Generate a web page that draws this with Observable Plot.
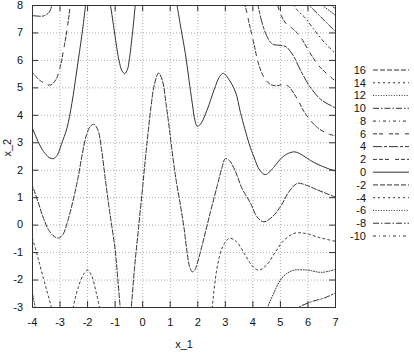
<!DOCTYPE html>
<html><head><meta charset="utf-8">
<script src="https://cdn.jsdelivr.net/npm/d3@7"></script>
<script src="https://cdn.jsdelivr.net/npm/@observablehq/plot@0.6"></script>
<style>body{margin:0;background:#fff}</style>
</head><body><div id="chart"></div>
<script>
// contour levels (legend order) and tick values
const levels = [16,14,12,10,8,6,4,2,0,-2,-4,-6,-8,-10];
const xTicks = [-4,-3,-2,-1,0,1,2,3,4,5,6,7];
const yTicks = [-3,-2,-1,0,1,2,3,4,5,6,7,8];

// contour pieces: [x_1, x_2]
const c0a = [[-4.05,3.62],[-4,3.52],[-3.8,3.05],[-3.6,2.68],[-3.4,2.47],[-3.25,2.42],[-3.1,2.55],[-2.95,2.95],[-2.75,3.53],[-2.57,4.44],[-2.39,5.65],[-2.2,6.98],[-2.08,7.95],[-2.05,8.2]];
const c0b = [[-1.22,8.2],[-1.17,8],[-1.02,7],[-0.86,6.0],[-0.75,5.62],[-0.65,5.52],[-0.55,5.68],[-0.49,6.0],[-0.37,7.0],[-0.27,8],[-0.25,8.2]];
const c0c = [[1.22,8.2],[1.25,8.0],[1.4,7.1],[1.55,6.25],[1.68,5.3],[1.8,4.44],[1.9,3.8],[1.98,3.6],[2.1,3.68],[2.34,4.2],[2.6,4.95],[2.8,5.42],[2.93,5.53],[3.1,5.35],[3.37,4.85],[3.55,4.1],[3.86,2.98],[4.04,2.48],[4.25,2.0],[4.46,1.84],[4.75,2.1],[5.1,2.5],[5.49,2.67],[5.8,2.55],[6.1,2.35],[6.5,2.15],[7.05,1.95]];
const cm2a = [[-4.05,1.55],[-4,1.43],[-3.8,0.85],[-3.6,0.25],[-3.4,-0.2],[-3.2,-0.42],[-3.05,-0.47],[-2.9,-0.35],[-2.75,0.05],[-2.6,0.6],[-2.47,1.15],[-2.35,1.7],[-2.2,2.55],[-2.05,3.25],[-1.9,3.6],[-1.76,3.67],[-1.62,3.45],[-1.5,2.8],[-1.36,1.7],[-1.2,0.5],[-1.0,-0.9],[-0.9,-2.0],[-0.81,-3.05],[-0.79,-3.2]];
const cm2b = [[-0.45,-3.2],[-0.42,-3.03],[-0.3,-1.6],[-0.15,-0.1],[0.0,1.4],[0.1,2.44],[0.2,3.4],[0.3,4.3],[0.42,5.1],[0.58,5.54],[0.72,5.25],[0.85,4.4],[0.97,3.5],[1.1,2.44],[1.22,1.6],[1.37,0.73],[1.5,-0.1],[1.61,-0.97],[1.7,-1.5],[1.8,-1.7],[1.9,-1.62],[1.98,-1.4],[2.16,-0.73],[2.46,0.48],[2.71,1.45],[2.88,2.1],[3.0,2.42],[3.15,2.35],[3.37,1.95],[3.6,1.35],[3.92,0.79],[4.15,0.3],[4.4,0.12],[4.7,0.3],[5.0,0.67],[5.3,1.2],[5.61,1.52],[5.95,1.45],[6.3,1.3],[7.05,1.0]];
const cm4a = [[-4.05,-0.3],[-4,-0.48],[-3.8,-1.2],[-3.6,-1.95],[-3.45,-2.5],[-3.3,-3.05],[-3.28,-3.2]];
const cm4b = [[-2.56,-3.2],[-2.53,-3.03],[-2.35,-2.3],[-2.15,-1.8],[-2.0,-1.64],[-1.85,-1.85],[-1.7,-2.4],[-1.56,-3.03],[-1.53,-3.2]];
const cm4c = [[2.5,-3.2],[2.52,-3.03],[2.7,-1.56],[2.9,-0.8],[3.15,-0.48],[3.4,-0.6],[3.7,-1.05],[3.95,-1.45],[4.2,-1.64],[4.5,-1.45],[4.8,-1.0],[5.13,-0.55],[5.5,-0.3],[5.9,-0.3],[6.4,-0.45],[7.05,-0.6]];
const cm6 = [[4.48,-3.2],[4.52,-3.03],[4.75,-2.5],[5.0,-2.0],[5.25,-1.75],[5.5,-1.64],[6.0,-1.64],[6.5,-1.72],[7.05,-1.6]];
const cm6a = [[-4.05,-2.3],[-4,-2.48],[-3.9,-3.03],[-3.88,-3.2]];
const cm8 = [[5.5,-3.2],[5.61,-3.03],[6.1,-2.8],[6.6,-2.65],[7.05,-2.45]];
const c2a = [[-4.05,5.6],[-4,5.55],[-3.7,5.25],[-3.36,5.1],[-3.15,5.3],[-3.0,5.75],[-2.85,6.5],[-2.72,7.3],[-2.63,8],[-2.6,8.2]];
const c2b = [[3.6,8.3],[3.73,7.94],[3.9,7.2],[4.04,6.6],[4.2,5.9],[4.4,5.39],[4.64,5.12],[4.9,5.08],[5.13,5.13],[5.3,5.05],[5.61,4.6],[5.85,4.15],[6.1,3.8],[6.35,3.55],[6.58,3.4],[6.8,3.3],[7.05,3.25]];
const c4a = [[-4.05,7.63],[-4,7.63],[-3.6,7.62],[-3.4,7.75],[-3.3,8.0],[-3.28,8.2]];
const c4b = [[4.15,8.2],[4.3,7.5],[4.5,6.9],[4.7,6.6],[4.95,6.55],[5.2,6.5],[5.45,6.2],[5.75,5.6],[6.1,5.0],[6.5,4.55],[7.05,4.25]];
const c6 = [[4.85,8.2],[5.0,7.7],[5.2,7.35],[5.45,7.15],[5.7,6.9],[6.0,6.4],[6.4,5.8],[7.05,5.2]];
const c8 = [[5.4,8.2],[5.6,7.85],[5.9,7.55],[6.2,7.15],[6.6,6.65],[7.05,6.2]];
const c10 = [[5.9,8.2],[6.1,7.95],[6.4,7.65],[6.7,7.35],[7.05,7.0]];
const c12 = [[6.3,8.2],[6.6,7.95],[7.05,7.6]];
const c14 = [[6.65,8.2],[6.85,8.0],[7.05,7.85]];

const pieces = [
  [0,c0a],[0,c0b],[0,c0c],[-2,cm2a],[-2,cm2b],[-4,cm4a],[-4,cm4b],[-4,cm4c],
  [-6,cm6a],[-6,cm6],[-8,cm8],[2,c2a],[2,c2b],[4,c4a],[4,c4b],[6,c6],[8,c8],[10,c10],[12,c12],[14,c14]
];
const rows = [];
pieces.forEach(([level, pts], id) => pts.forEach(([x, y]) => rows.push({id, level, x, y})));

const dashStyles = ["5,2","2,3","1,1.6","6,2,1.5,2","3,3,1,3","4,2,4,6","9,2,3,2","4,2,4,2,4,6",null];
const dashOf = lv => dashStyles[levels.indexOf(lv) % 9];

const W = 414, H = 354, mL = 32, mR = 79, mT = 5, mB = 47;
const ink = "#333";
const font = "'Liberation Sans', Arial, sans-serif";
const lineMarks = levels.map(lv => Plot.line(rows.filter(r => r.level === lv), {
  x: "x", y: "y", z: "id", stroke: ink, strokeWidth: 1, curve: "catmull-rom", clip: true,
  strokeDasharray: dashOf(lv)
}));

const fh = H - mT - mB, fw = W - mL - mR, tk = 6;
const plot = Plot.plot({
  width: W, height: H, marginLeft: mL, marginRight: mR, marginTop: mT, marginBottom: mB,
  style: {fontFamily: font, fontSize: "11px", background: "#fff", color: "#111", overflow: "visible"},
  x: {domain: [-4, 7], axis: null}, y: {domain: [-3, 8], axis: null},
  marks: [
    Plot.gridX(xTicks, {stroke: "#999", strokeOpacity: 0.8, strokeDasharray: "1,2"}),
    Plot.gridY(yTicks, {stroke: "#999", strokeOpacity: 0.8, strokeDasharray: "1,2"}),
    ...lineMarks,
    Plot.ruleX(xTicks, {stroke: ink, insetTop: fh - tk}),
    Plot.ruleX(xTicks, {stroke: ink, insetBottom: fh - tk}),
    Plot.ruleY(yTicks, {stroke: ink, insetRight: fw - tk}),
    Plot.ruleY(yTicks, {stroke: ink, insetLeft: fw - tk}),
    Plot.frame({stroke: ink}),
    Plot.text(xTicks, {x: d => d, frameAnchor: "bottom", dy: 18, text: d => String(d), fontSize: 11, fill: "#111"}),
    Plot.text(["x_1"], {frameAnchor: "bottom", dy: 40, fontSize: 11, fill: "#111"}),
    Plot.text(["x_2"], {frameAnchor: "left", dx: -25, rotate: -90, fontSize: 11, fill: "#111"})
  ]
});

const svg = d3.select(plot);
// y tick labels positioned with the plot's own y scale
const ys = plot.scale("y");
const yl = svg.append("g").attr("font-family", font).attr("font-size", 11).attr("fill", "#111");
yTicks.forEach(v => {
  yl.append("text").attr("x", mL - 9).attr("y", ys.apply(v)).attr("dy", "0.35em").attr("text-anchor", "end").text(v);
});

// legend
const lg = svg.append("g").attr("font-family", font).attr("font-size", 11);
levels.forEach((lv, i) => {
  const y = 70 + i * 12.77;
  lg.append("text").attr("x", 366).attr("y", y).attr("dy", "0.35em").attr("text-anchor", "end").attr("fill", "#111").text(lv);
  const ln = lg.append("line").attr("x1", 373).attr("x2", 409).attr("y1", y).attr("y2", y).attr("stroke", ink).attr("stroke-width", 1);
  const d = dashOf(lv); if (d) ln.attr("stroke-dasharray", d);
});
document.getElementById("chart").appendChild(plot);
</script>
</body></html>
